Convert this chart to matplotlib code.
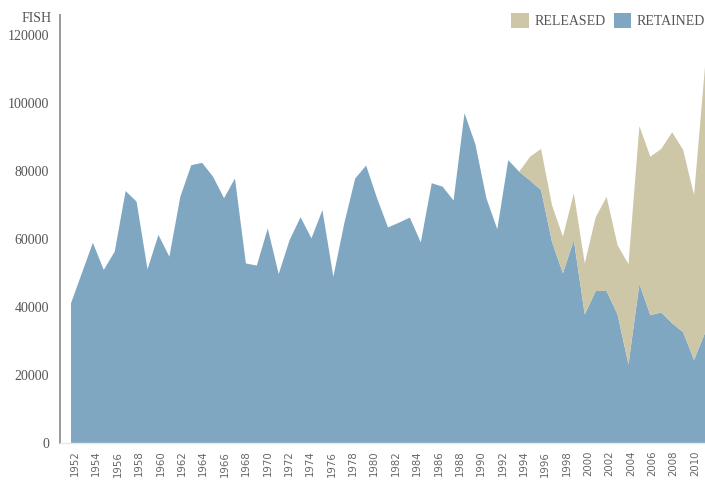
import matplotlib
matplotlib.use("Agg")
import matplotlib.pyplot as plt
from matplotlib.patches import Patch
import numpy as np

years = list(range(1952, 2011))
retained = [41100, 50000, 58900, 50900, 56300, 74100, 71000, 51100, 61200, 54800,
            72400, 81700, 82400, 78300, 72000, 77800, 52800, 52200, 63100, 49700,
            59700, 66400, 60200, 68500, 48900, 64600, 77800, 81600, 72000, 63400,
            64800, 66300, 59000, 76400, 75400, 71300, 97000, 87800, 72000, 62900,
            83200, 79800, 77200, 74400, 59200, 49900, 59700, 37800, 44700, 44700,
            37800, 23100, 46800, 37600, 38400, 35200, 32600, 24400, 32400]
released = [0] * 41 + [0, 7000, 12100, 10800, 10800, 13700, 15000, 21700, 27700,
                       20400, 29500, 46400, 46600, 48100, 56200, 53600, 48500, 78300]
tick_years = list(range(1952, 2011, 2))
y_ticks = [0, 20000, 40000, 60000, 80000, 100000, 120000]
series_labels = ["RETAINED", "RELEASED"]

c_ret = "#7fa7c2"
c_rel = "#cdc6a7"

W, H = 705, 480
fig = plt.figure(figsize=(W / 100, H / 100), dpi=100)
ax = fig.add_axes([60 / W, (H - 443) / H, (705 - 60) / W, (443 - 15) / H])

ax.stackplot(years, retained, released, colors=[c_ret, c_rel], linewidth=0)

px_per_year = 634 / 58
ax.set_xlim(1952 - 11 / px_per_year, 2010)
ax.set_ylim(0, (443 - 15) / 3.4 * 1000)

for s in ["top", "right"]:
    ax.spines[s].set_visible(False)
ax.spines["left"].set_color("#999999")
ax.spines["left"].set_linewidth(1.4)
ax.spines["bottom"].set_color("#e3e8ec")
ax.spines["bottom"].set_linewidth(1.0)

ax.set_yticks(y_ticks)
ax.set_yticklabels([str(v) for v in y_ticks], fontfamily="Liberation Serif",
                   fontsize=10, color="#555555")
ax.tick_params(axis="y", length=0, pad=8)

# tick labels follow a slightly narrower band than the data points
t0 = 1952 + 4 / px_per_year
tick_pos = [t0 + (y - 1952) * (10.69 / px_per_year) for y in tick_years]
ax.set_xticks(tick_pos)
ax.set_xticklabels([str(y) for y in tick_years], rotation=90, fontfamily="DejaVu Sans",
                   fontsize=7.3, color="#666666")
ax.tick_params(axis="x", length=0, pad=5.5)

fig.text(52 / W, 1 - 19 / H, "FISH", ha="right", va="center",
         fontfamily="Liberation Serif", fontsize=10, color="#555555")

handles = [Patch(facecolor=c_rel, edgecolor="none"), Patch(facecolor=c_ret, edgecolor="none")]
leg = fig.legend(handles, [series_labels[1], series_labels[0]], loc="upper right",
                 bbox_to_anchor=(1.0, 1 - 13 / H), ncol=2, frameon=False,
                 prop={"family": "Liberation Serif", "size": 10},
                 handlelength=1.25, handleheight=1.25, handletextpad=0.4,
                 columnspacing=0.6, borderpad=0, borderaxespad=0)
for t in leg.get_texts():
    t.set_color("#555555")

fig.savefig("out.png", dpi=100)
